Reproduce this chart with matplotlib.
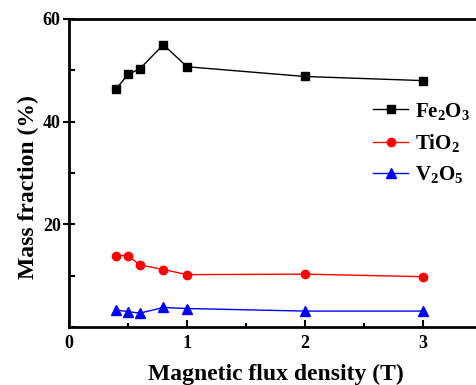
import matplotlib
matplotlib.use('Agg')
import matplotlib.pyplot as plt
from matplotlib.ticker import MultipleLocator

plt.rcParams['font.family'] = 'Liberation Serif'
plt.rcParams['font.weight'] = 'bold'
plt.rcParams['mathtext.default'] = 'regular'

# Magnetic flux density (T)
flux = [0.4, 0.5, 0.6, 0.8, 1.0, 2.0, 3.0]
# Mass fraction (%)
fe2o3 = [46.4, 49.2, 50.3, 55.0, 50.7, 48.8, 48.0]
tio2 = [13.9, 13.9, 12.1, 11.2, 10.2, 10.3, 9.8]
v2o5 = [3.3, 3.0, 2.7, 3.8, 3.6, 3.1, 3.1]

fig = plt.figure(figsize=(4.77, 3.85), dpi=100)
ax = fig.add_axes([69 / 477, 58 / 385, 413 / 477, 308 / 385])

ax.plot(flux, fe2o3, color='black', marker='s', markersize=6, linewidth=1, label=r'Fe$_2$O$_3$')
ax.plot(flux, tio2, color='red', marker='o', markersize=6, linewidth=1, label=r'TiO$_2$')
ax.plot(flux, v2o5, color='blue', marker='^', markersize=7, linewidth=1, label=r'V$_2$O$_5$')

ax.set_xlim(0, 3.5)
ax.set_ylim(0, 60)
ax.xaxis.set_major_locator(MultipleLocator(1))
ax.xaxis.set_minor_locator(MultipleLocator(0.5))
ax.yaxis.set_minor_locator(MultipleLocator(10))
ax.set_yticks([20, 40, 60])

ax.tick_params(axis='x', which='major', direction='in', length=5, width=1.5, labelsize=13, pad=6)
ax.tick_params(axis='x', which='minor', direction='in', length=3, width=1.5)
ax.tick_params(axis='y', which='major', direction='inout', length=8, width=1.5, labelsize=13, pad=2)
ax.tick_params(axis='y', which='minor', direction='in', length=4, width=1.5)

for side in ['left', 'bottom', 'top']:
    ax.spines[side].set_linewidth(2)
ax.spines['right'].set_visible(False)

ax.set_xlabel('Magnetic flux density (T)', fontsize=17, fontweight='bold', labelpad=8)
ax.set_ylabel('Mass fraction (%)', fontsize=17, fontweight='bold')
ax.yaxis.set_label_coords(-0.072, 0.455)

ax.legend(loc='upper left', bbox_to_anchor=(0.736, 0.735), frameon=False, fontsize=15,
          borderpad=0, borderaxespad=0, handlelength=1.7, handletextpad=0.3,
          labelspacing=0.5)

fig.savefig('out.png', dpi=100)
